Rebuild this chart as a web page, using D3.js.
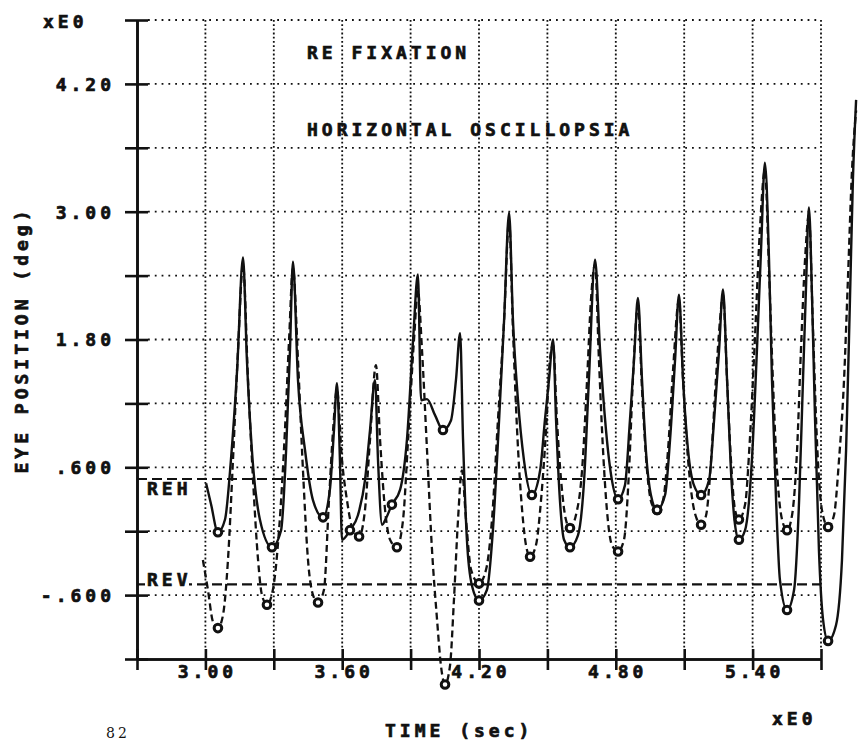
<!DOCTYPE html>
<html>
<head>
<meta charset="utf-8">
<script src="https://cdn.jsdelivr.net/npm/d3@7"></script>
<style>
  body { margin: 0; background: #fff; }
  text { font-family: "DejaVu Sans Mono", monospace; font-weight: bold; font-size: 18px; letter-spacing: 4px; fill: #111; stroke: #111; stroke-width: 0.7px; }
</style>
</head>
<body>
<svg id="chart" width="859" height="740"></svg>
<script>
// axis ticks and labels
const yTicks = [-1.2, -0.6, 0, 0.6, 1.2, 1.8, 2.4, 3.0, 3.6, 4.2, 4.8];
const yLabelValues = [-0.6, 0.6, 1.8, 3.0, 4.2];
const yLabelTexts = ["-.600", ".600", "1.80", "3.00", "4.20"];
const xTicks = [2.7, 3.0, 3.3, 3.6, 3.9, 4.2, 4.5, 4.8, 5.1, 5.4, 5.7];
const xLabelValues = [3.0, 3.6, 4.2, 4.8, 5.4];
const xLabelTexts = ["3.00", "3.60", "4.20", "4.80", "5.40"];

// reference levels
const refNames = ["REH", "REV"];
const refLevels = [0.49, -0.50];

// REH trace (solid), [time, deg]
const rehTrace = [[3.003,0.45],[3.025,0.25],[3.055,-0.01],[3.086,0.11],[3.112,0.67],[3.139,1.51],[3.165,2.57],[3.182,1.61],[3.204,0.76],[3.239,0.11],[3.292,-0.15],[3.332,0.01],[3.354,0.76],[3.371,1.70],[3.384,2.53],[3.406,1.42],[3.437,0.76],[3.472,0.29],[3.516,0.13],[3.546,0.39],[3.564,0.95],[3.577,1.39],[3.590,0.67],[3.599,-0.08],[3.634,0.01],[3.669,0.15],[3.700,0.48],[3.722,0.95],[3.744,1.42],[3.757,0.67],[3.775,0.06],[3.792,0.12],[3.818,0.25],[3.854,0.39],[3.884,0.86],[3.911,1.80],[3.932,2.41],[3.946,1.23],[3.972,1.24],[4.007,1.09],[4.042,0.95],[4.077,1.04],[4.099,1.42],[4.117,1.86],[4.130,0.86],[4.147,-0.08],[4.169,-0.51],[4.200,-0.65],[4.235,-0.55],[4.261,0.01],[4.288,1.04],[4.310,1.98],[4.332,2.99],[4.349,1.98],[4.371,1.23],[4.397,0.67],[4.432,0.34],[4.468,0.57],[4.489,1.04],[4.507,1.42],[4.525,1.80],[4.538,1.04],[4.555,0.29],[4.573,-0.08],[4.599,-0.15],[4.634,-0.04],[4.661,0.48],[4.682,1.42],[4.709,2.55],[4.731,1.70],[4.757,0.95],[4.783,0.48],[4.810,0.30],[4.840,0.43],[4.862,1.04],[4.880,1.61],[4.897,2.19],[4.915,1.42],[4.932,0.76],[4.954,0.34],[4.981,0.20],[5.016,0.34],[5.038,0.86],[5.060,1.61],[5.077,2.22],[5.095,1.42],[5.117,0.76],[5.143,0.43],[5.174,0.34],[5.209,0.48],[5.231,1.04],[5.253,1.70],[5.270,2.27],[5.288,1.42],[5.305,0.57],[5.323,0.06],[5.340,-0.08],[5.367,0.01],[5.397,0.67],[5.419,1.70],[5.437,2.64],[5.454,3.46],[5.472,2.55],[5.485,1.42],[5.503,0.29],[5.520,-0.46],[5.551,-0.74],[5.582,-0.55],[5.604,0.29],[5.621,1.42],[5.634,2.27],[5.647,3.04],[5.661,2.17],[5.674,1.04],[5.691,-0.18],[5.709,-0.83],[5.731,-1.03],[5.766,-0.88],[5.792,-0.27],[5.810,0.76],[5.827,2.17],[5.840,3.30],[5.854,4.05]];

// REV trace (dashed)
const revTrace = [[2.989,-0.27],[3.011,-0.55],[3.033,-0.85],[3.055,-0.91],[3.077,-0.79],[3.099,-0.27],[3.121,0.67],[3.143,1.70],[3.165,2.50],[3.187,1.42],[3.209,0.48],[3.231,-0.27],[3.248,-0.60],[3.270,-0.69],[3.296,-0.55],[3.323,0.01],[3.349,0.95],[3.367,1.80],[3.384,2.47],[3.406,1.61],[3.428,0.57],[3.450,-0.27],[3.472,-0.60],[3.494,-0.67],[3.520,-0.55],[3.542,0.29],[3.560,0.95],[3.577,1.33],[3.599,0.67],[3.621,0.29],[3.647,0.01],[3.674,-0.05],[3.700,0.20],[3.722,0.86],[3.748,1.56],[3.766,0.86],[3.788,0.20],[3.810,-0.08],[3.840,-0.15],[3.867,0.11],[3.889,0.86],[3.915,1.80],[3.932,2.26],[3.950,1.70],[3.972,0.76],[3.994,-0.18],[4.016,-0.83],[4.033,-1.26],[4.051,-1.44],[4.073,-1.26],[4.090,-0.65],[4.108,0.11],[4.125,0.57],[4.143,0.11],[4.165,-0.36],[4.200,-0.49],[4.231,-0.36],[4.257,0.11],[4.283,1.04],[4.310,1.98],[4.332,2.92],[4.349,1.89],[4.367,0.95],[4.389,0.20],[4.406,-0.13],[4.424,-0.24],[4.450,-0.13],[4.472,0.29],[4.494,0.95],[4.511,1.61],[4.525,1.75],[4.542,1.04],[4.560,0.48],[4.581,0.11],[4.599,0.03],[4.625,0.15],[4.652,0.57],[4.674,1.42],[4.691,2.17],[4.709,2.50],[4.726,1.61],[4.744,0.76],[4.761,0.20],[4.783,-0.13],[4.810,-0.19],[4.836,-0.08],[4.858,0.57],[4.875,1.42],[4.897,2.12],[4.915,1.33],[4.937,0.57],[4.959,0.25],[4.981,0.20],[5.007,0.29],[5.029,0.76],[5.051,1.51],[5.077,2.17],[5.095,1.42],[5.117,0.67],[5.139,0.25],[5.156,0.11],[5.174,0.06],[5.196,0.15],[5.218,0.67],[5.239,1.42],[5.257,1.98],[5.270,2.22],[5.288,1.42],[5.305,0.67],[5.323,0.20],[5.340,0.11],[5.367,0.25],[5.388,0.86],[5.410,1.80],[5.432,2.83],[5.454,3.39],[5.472,2.45],[5.489,1.42],[5.507,0.57],[5.529,0.11],[5.551,0.01],[5.573,0.15],[5.595,0.76],[5.612,1.70],[5.630,2.55],[5.647,2.97],[5.665,1.89],[5.682,0.86],[5.704,0.20],[5.731,0.04],[5.757,0.15],[5.779,0.67],[5.801,1.42],[5.818,2.36],[5.836,3.39],[5.854,3.95]];

// trough markers
const rehMarks = [[3.055,-0.01],[3.292,-0.15],[3.516,0.13],[3.634,0.01],[3.818,0.25],[4.042,0.95],[4.200,-0.65],[4.432,0.34],[4.599,-0.15],[4.810,0.30],[4.981,0.20],[5.174,0.34],[5.340,-0.08],[5.551,-0.74],[5.731,-1.03]];
const revMarks = [[3.055,-0.91],[3.270,-0.69],[3.494,-0.67],[3.674,-0.05],[3.840,-0.15],[4.051,-1.44],[4.200,-0.49],[4.424,-0.24],[4.599,0.03],[4.810,-0.19],[4.981,0.20],[5.174,0.06],[5.340,0.11],[5.551,0.01],[5.731,0.04]];

const svg = d3.select("#chart");

const x = d3.scaleLinear().domain([2.7, 5.7]).range([137, 821]);
const y = d3.scaleLinear().domain([-1.2, 4.8]).range([659, 20]);

// dotted grid
svg.append("g").selectAll("line")
   .data(yTicks.filter(d => d > -1.2))
   .enter().append("line")
   .attr("x1", x(2.7) + 11).attr("x2", x(5.7))
   .attr("y1", d => y(d)).attr("y2", d => y(d))
   .attr("stroke", "#111").attr("stroke-width", 1.8)
   .attr("stroke-dasharray", "1.8,5");

svg.append("g").selectAll("line")
   .data(xTicks.filter(d => d > 2.7))
   .enter().append("line")
   .attr("x1", d => x(d)).attr("x2", d => x(d))
   .attr("y1", y(4.8)).attr("y2", y(-1.2) - 10)
   .attr("stroke", "#111").attr("stroke-width", 1.8)
   .attr("stroke-dasharray", "1.8,2.4");

// reference lines
svg.append("g").selectAll("line")
   .data(refLevels)
   .enter().append("line")
   .attr("x1", x(2.7)).attr("x2", x(5.7))
   .attr("y1", d => y(d)).attr("y2", d => y(d))
   .attr("stroke", "#111").attr("stroke-width", 2.2)
   .attr("stroke-dasharray", "10,5");

// axes
function styleAxis(g) {
    g.selectAll("path, line").attr("stroke", "#111").attr("stroke-width", 2.6);
    g.attr("font-family", null).attr("font-size", null);
}

const yLabel = d => {
    const i = yLabelValues.findIndex(v => Math.abs(v - d) < 1e-6);
    return i < 0 ? "" : yLabelTexts[i];
};

svg.append("g")
   .attr("transform", `translate(${x(2.7)},0)`)
   .call(d3.axisLeft(y).tickValues(yTicks).tickSize(12).tickSizeOuter(0).tickPadding(10).tickFormat(yLabel))
   .call(styleAxis)
   .selectAll("text").attr("fill", "#111").attr("dy", "0.36em");

svg.append("g")
   .attr("transform", `translate(${x(2.7)},0)`)
   .call(d3.axisRight(y).tickValues(yTicks).tickSize(11).tickSizeOuter(0).tickFormat(""))
   .call(styleAxis);

svg.append("g")
   .attr("transform", `translate(0,${y(-1.2)})`)
   .call(d3.axisBottom(x).tickValues(xTicks).tickSize(11).tickSizeOuter(0).tickFormat(""))
   .call(styleAxis);

svg.append("g")
   .attr("transform", `translate(0,${y(-1.2)})`)
   .call(d3.axisTop(x).tickValues(xTicks).tickSize(10).tickSizeOuter(0).tickFormat(""))
   .call(styleAxis);

svg.append("g").selectAll("text")
   .data(xLabelValues)
   .enter().append("text")
   .attr("x", d => x(d) + 2)
   .attr("y", 678)
   .attr("text-anchor", "middle")
   .text((d, i) => xLabelTexts[i]);

// traces
const line = d3.line()
   .x(d => x(d[0]))
   .y(d => y(d[1]))
   .curve(d3.curveMonotoneX);

svg.append("path")
   .datum(revTrace)
   .attr("d", line)
   .attr("fill", "none")
   .attr("stroke", "#111").attr("stroke-width", 2.3)
   .attr("stroke-dasharray", "7,4");

svg.append("path")
   .datum(rehTrace)
   .attr("d", line)
   .attr("fill", "none")
   .attr("stroke", "#111").attr("stroke-width", 2.4);

svg.append("g").selectAll("circle")
   .data(rehMarks.concat(revMarks))
   .enter().append("circle")
   .attr("cx", d => x(d[0]))
   .attr("cy", d => y(d[1]))
   .attr("r", 3.8)
   .attr("fill", "#fff")
   .attr("stroke", "#111").attr("stroke-width", 3);

// reference labels
svg.append("text").attr("x", 147).attr("y", 495).text(refNames[0]);
svg.append("rect").attr("x", 145).attr("y", 574).attr("width", 44).attr("height", 14).attr("fill", "#fff");
svg.append("text").attr("x", 147).attr("y", 586).text(refNames[1]);

// titles and axis labels
svg.append("text").attr("x", 307).attr("y", 59).text("RE FIXATION");
svg.append("text").attr("x", 307).attr("y", 136).text("HORIZONTAL OSCILLOPSIA");
svg.append("text").attr("x", 43).attr("y", 28).text("xE0");
svg.append("text").attr("x", 772).attr("y", 725).text("xE0");
svg.append("text").attr("x", 385).attr("y", 737).text("TIME (sec)");
svg.append("text")
   .attr("transform", "translate(28,340) rotate(-90)")
   .attr("text-anchor", "middle")
   .text("EYE POSITION (deg)");
svg.append("text").attr("x", 106).attr("y", 738)
   .style("font-weight", "normal").style("font-size", "14px").style("letter-spacing", "3px")
   .style("font-family", "DejaVu Serif").style("stroke", "none").attr("fill", "#444")
   .text("82");
</script>
</body>
</html>
